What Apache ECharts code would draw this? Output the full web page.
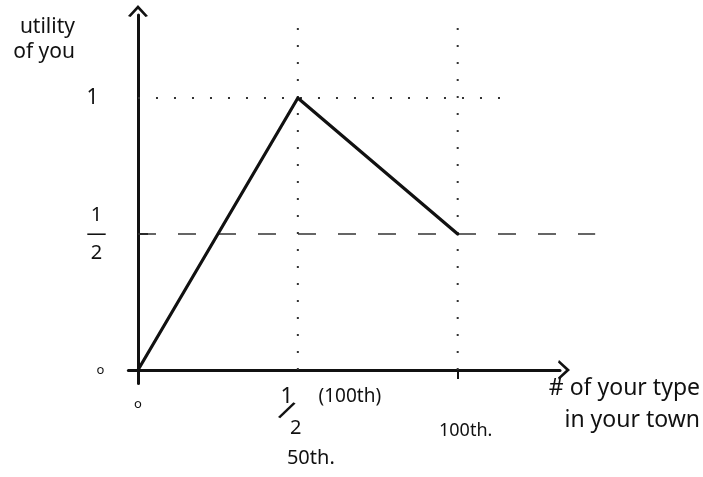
<!DOCTYPE html>
<html>
<head>
<meta charset="utf-8">
<style>
  html, body { margin: 0; padding: 0; background: #fff; }
  #chart { width: 703px; height: 477px; }
</style>
<script src="https://cdn.jsdelivr.net/npm/echarts@6/dist/echarts.min.js"></script>
</head>
<body>
<div id="chart"></div>
<script>
// Utility of a resident as a function of how many of their type live in town
const shareOfType = [0, 0.5, 1];
const utility = [0, 1, 0.5];

// Tick positions
const xTicks = [0, 0.5, 1];
const yTicks = [0, 0.5, 1];

// Guide lines: verticals at the peak and the end, horizontals at 1 and 1/2
const peakGuideX = [0.5, 0.5];
const peakGuideY = [0, 1.305];
const endGuideX = [1, 1];
const endGuideY = [0, 1.305];
const topGuideX = [0, 1.18];
const topGuideY = [1, 1];
const halfGuideX = [0, 1.43];
const halfGuideY = [0.5, 0.5];

const ink = '#111';
const font = '"Noto Sans", "DejaVu Sans", sans-serif';
const chevron = 'path://M0,11 L10,0 L20,11 L17.5,12 L10,4 L2.5,12 Z';

const pairs = (xs, ys) => xs.map((x, i) => [x, ys[i]]);

function guide(xs, ys, type, width) {
  return {
    type: 'line',
    data: pairs(xs, ys),
    symbol: 'none',
    silent: true,
    clip: false,
    z: 1,
    lineStyle: { color: '#333', width: width, type: type }
  };
}

const chart = echarts.init(document.getElementById('chart'), null, { renderer: 'canvas' });

chart.setOption({
  animation: false,
  backgroundColor: '#fff',
  grid: { left: 128.4, right: 142.6, top: 15, bottom: 93.4, containLabel: false },
  xAxis: {
    type: 'value',
    min: -0.03,
    max: 1.32,
    splitLine: { show: false },
    axisLine: {
      onZero: true,
      symbol: ['none', chevron],
      symbolSize: [20, 13],
      symbolOffset: [0, 4],
      lineStyle: { color: ink, width: 3 }
    },
    axisTick: { show: true, customValues: [1], length: 9, inside: false, lineStyle: { color: ink, width: 2 } },
    axisLabel: {
      customValues: xTicks,
      margin: 14,
      color: ink,
      fontFamily: font,
      formatter: function (v) {
        if (v === 0) return '{z|o}';
        if (v === 1) return '{h|100th.}';
        return '';
      },
      rich: {
        z: { fontSize: 13, fontFamily: font, color: ink, padding: [0, 0, 6, 0] },
        h: { fontSize: 18, fontFamily: font, color: ink, padding: [24, 0, 0, 16] }
      }
    },
    name: '# of your type\nin your town',
    nameLocation: 'end',
    nameGap: 0,
    nameTextStyle: {
      fontSize: 23,
      fontFamily: font,
      color: ink,
      align: 'right',
      verticalAlign: 'top',
      lineHeight: 32,
      padding: [2, -140, 0, 0]
    }
  },
  yAxis: {
    type: 'value',
    min: -0.05,
    max: 1.305,
    splitLine: { show: false },
    axisLine: {
      onZero: true,
      symbol: ['none', chevron],
      symbolSize: [20, 13],
      symbolOffset: [0, 4],
      lineStyle: { color: ink, width: 3 }
    },
    axisTick: { show: true, customValues: [0.5], inside: true, length: 10, lineStyle: { color: ink, width: 2 } },
    axisLabel: {
      customValues: yTicks,
      margin: 14,
      color: ink,
      fontFamily: font,
      formatter: function (v) {
        if (v === 0) return '{z|o}';
        if (v === 0.5) return '{f|1}\n{f|—}\n{f|2}';
        if (v === 1) return '{one|1}';
        return '';
      },
      rich: {
        z: { fontSize: 13, fontFamily: font, color: ink, padding: [0, 10, 0, 0] },
        f: { fontSize: 20, fontFamily: font, color: ink, lineHeight: 19, align: 'center', padding: [0, 8, 0, 0] },
        one: { fontSize: 21, fontFamily: font, color: ink, padding: [0, 16, 0, 0] }
      }
    },
    name: 'utility\nof you',
    nameLocation: 'end',
    nameGap: 0,
    nameTextStyle: {
      fontSize: 21,
      fontFamily: font,
      color: ink,
      align: 'right',
      verticalAlign: 'top',
      lineHeight: 25,
      padding: [0, 63, 0, 0]
    }
  },
  series: [
    guide(peakGuideX, peakGuideY, [2, 15], 2),
    guide(endGuideX, endGuideY, [2, 15], 2),
    guide(topGuideX, topGuideY, [2, 16], 2),
    {
      type: 'line',
      data: pairs(shareOfType, utility),
      symbol: 'none',
      z: 5,
      lineStyle: { color: ink, width: 3.2, join: 'round', cap: 'round' }
    }
  ]
});

// The 1/2 guide runs on past the end of the x axis, so it is drawn as a
// graphic line between the pixel positions of its two data points.
const toPx = (x, y) => chart.convertToPixel({ gridIndex: 0 }, [x, y]);
const [h0x, h0y] = toPx(halfGuideX[0], halfGuideY[0]);
const [h1x, h1y] = toPx(halfGuideX[1], halfGuideY[1]);

// The label under the peak: a hand-style "1/2 (100th)" with "50th." below,
// placed relative to the axis position of x = 1/2.
const [px, py] = toPx(xTicks[1], 0);
const txt = (text, x, y, size, extra) => Object.assign({
  type: 'text',
  x: px + x,
  y: py + y,
  silent: true,
  style: {
    text: text,
    fill: ink,
    fontFamily: font,
    fontSize: size,
    align: 'center',
    verticalAlign: 'middle'
  }
}, extra || {});

chart.setOption({
  graphic: [
    {
      type: 'line',
      silent: true,
      z: 1,
      shape: { x1: h0x, y1: h0y, x2: h1x, y2: h1y },
      style: { stroke: '#333', lineWidth: 1.6, lineDash: [18, 22] }
    },
    txt('1', -11, 27, 22),
    txt('/', -12, 42, 28, { rotation: -0.45 }),
    txt('2', -2, 58, 20),
    txt('(100th)', 52, 27, 19),
    txt('50th.', 13, 88, 20)
  ]
});
</script>
</body>
</html>
